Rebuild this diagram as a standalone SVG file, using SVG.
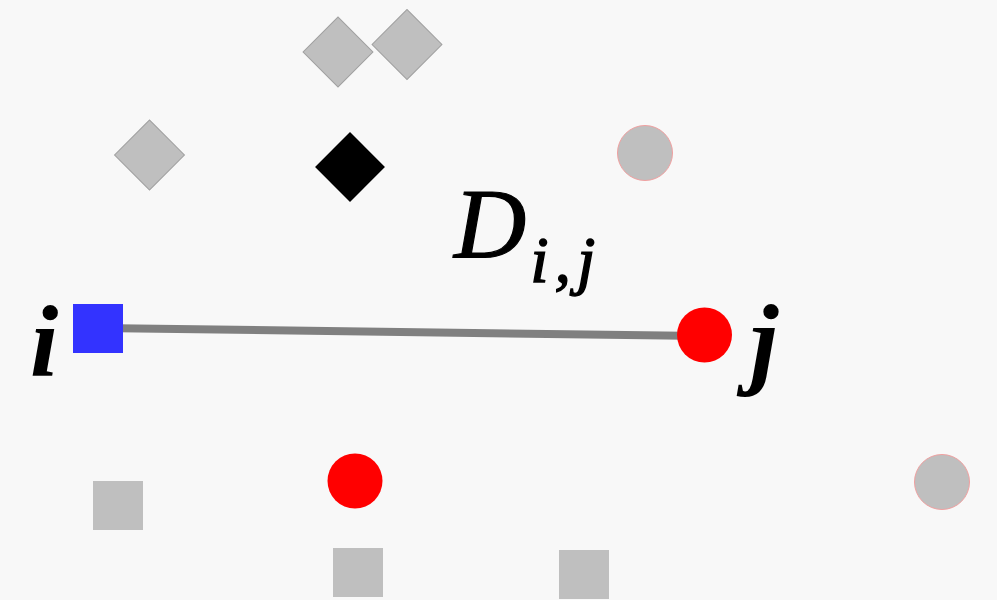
<svg xmlns="http://www.w3.org/2000/svg" width="997" height="600" viewBox="0 0 997 600">
<style>
.gd{fill:#bfbfbf;stroke:#a0a0a0;stroke-width:1}
.gc{fill:#bfbfbf;stroke:#f0a0a0;stroke-width:1}
.gs{fill:#bfbfbf}
.red{fill:#ff0000}
.lbl{font-family:"Liberation Serif","Times New Roman",serif;font-style:italic;fill:#000}
</style>
<rect width="997" height="600" fill="#f8f8f8"/>
<g id="connectors">
<line x1="98" y1="328" x2="704" y2="336" stroke="#808080" stroke-width="8"/>
</g>
<g id="d1"><rect class="gd" x="-24.7" y="-24.7" width="49.4" height="49.4" transform="translate(338,52) rotate(45)"/></g>
<g id="d2"><rect class="gd" x="-24.7" y="-24.7" width="49.4" height="49.4" transform="translate(407,44.5) rotate(45)"/></g>
<g id="d3"><rect class="gd" x="-24.7" y="-24.7" width="49.4" height="49.4" transform="translate(149.5,155) rotate(45)"/></g>
<g id="d4"><rect fill="#000" x="-24.7" y="-24.7" width="49.4" height="49.4" transform="translate(350,167) rotate(45)"/></g>
<g id="c1"><circle class="gc" cx="645" cy="153" r="27.5"/></g>
<g id="c2"><circle class="gc" cx="942" cy="482" r="27.5"/></g>
<g id="nodeI"><rect x="73" y="304" width="50" height="49" fill="#3333ff"/></g>
<g id="nodeJ"><circle class="red" cx="704.5" cy="335" r="27.5"/></g>
<g id="r2"><circle class="red" cx="355" cy="481" r="27.5"/></g>
<g id="s1"><rect class="gs" x="93" y="481" width="50" height="49"/></g>
<g id="s2"><rect class="gs" x="333" y="548" width="50" height="49"/></g>
<g id="s3"><rect class="gs" x="559" y="550" width="50" height="49"/></g>
<g id="labels">
<text class="lbl" x="30" y="376" font-size="102" font-weight="bold">i</text>
<text class="lbl" x="750" y="375" font-size="102" font-weight="bold">j</text>
<text class="lbl" x="454" y="257" font-size="100" stroke="#000" stroke-width="1.2">D<tspan font-size="66" dy="25" dx="4" letter-spacing="6" stroke-width="1.4">i,j</tspan></text>
</g>
</svg>
